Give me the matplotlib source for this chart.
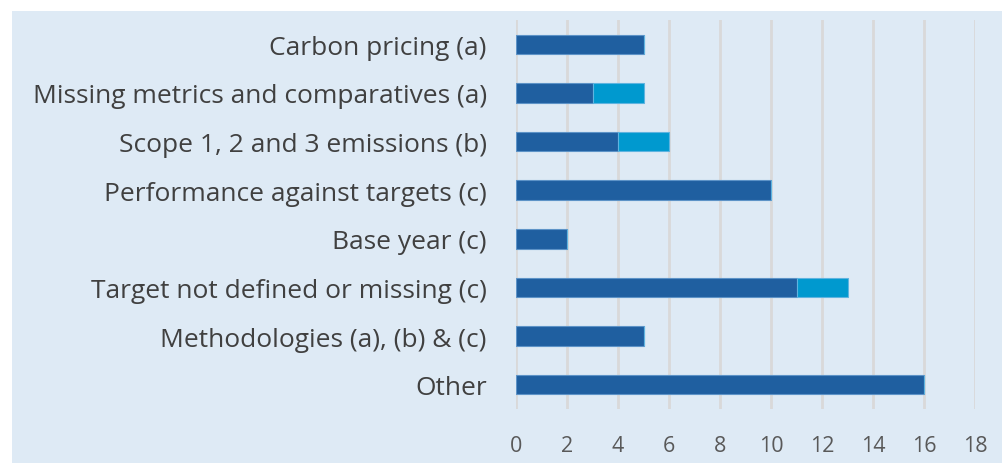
import matplotlib.pyplot as plt
from matplotlib.patches import Rectangle

categories = [
    "Carbon pricing (a)",
    "Missing metrics and comparatives (a)",
    "Scope 1, 2 and 3 emissions (b)",
    "Performance against targets (c)",
    "Base year (c)",
    "Target not defined or missing (c)",
    "Methodologies (a), (b) & (c)",
    "Other",
]
series_main = [5, 3, 4, 10, 2, 11, 5, 16]
series_extra = [0, 2, 2, 0, 0, 2, 0, 0]
x_ticks = [0, 2, 4, 6, 8, 10, 12, 14, 16, 18]

plt.rcParams['font.family'] = ['Open Sans', 'DejaVu Sans']

fig = plt.figure(figsize=(10.02, 4.64), dpi=100)
fig.patches.append(Rectangle((12 / 1002, -0.05), 1.1, (464 - 12) / 464 + 0.05,
                             transform=fig.transFigure, facecolor='#deeaf5',
                             edgecolor='none', zorder=-5))

ax = fig.add_axes([516 / 1002, 54 / 464, 459 / 1002, 389 / 464])
ax.set_facecolor('none')

y = list(range(len(categories)))
ax.barh(y, series_main, height=0.4, color='#1f5fa0', edgecolor='#5d93c7', linewidth=0.8, zorder=3)
ax.barh(y, series_extra, left=series_main, height=0.4, color='#0099cf', edgecolor='#5fb4e0',
        linewidth=0.8, zorder=3)

ax.set_xlim(0, 18)
ax.set_ylim(len(categories) - 0.5, -0.5)
ax.set_xticks(x_ticks)
ax.set_yticks(y)
ax.set_yticklabels(categories, fontsize=19, color='#404040')
ax.tick_params(axis='x', labelsize=15.5, labelcolor='#595959', length=0, pad=19)
ax.tick_params(axis='y', length=0, pad=21)
ax.grid(axis='x', color='#d9d9d9', linewidth=2, zorder=0)
for s in ax.spines.values():
    s.set_visible(False)

fig.savefig("out.png", dpi=100)
